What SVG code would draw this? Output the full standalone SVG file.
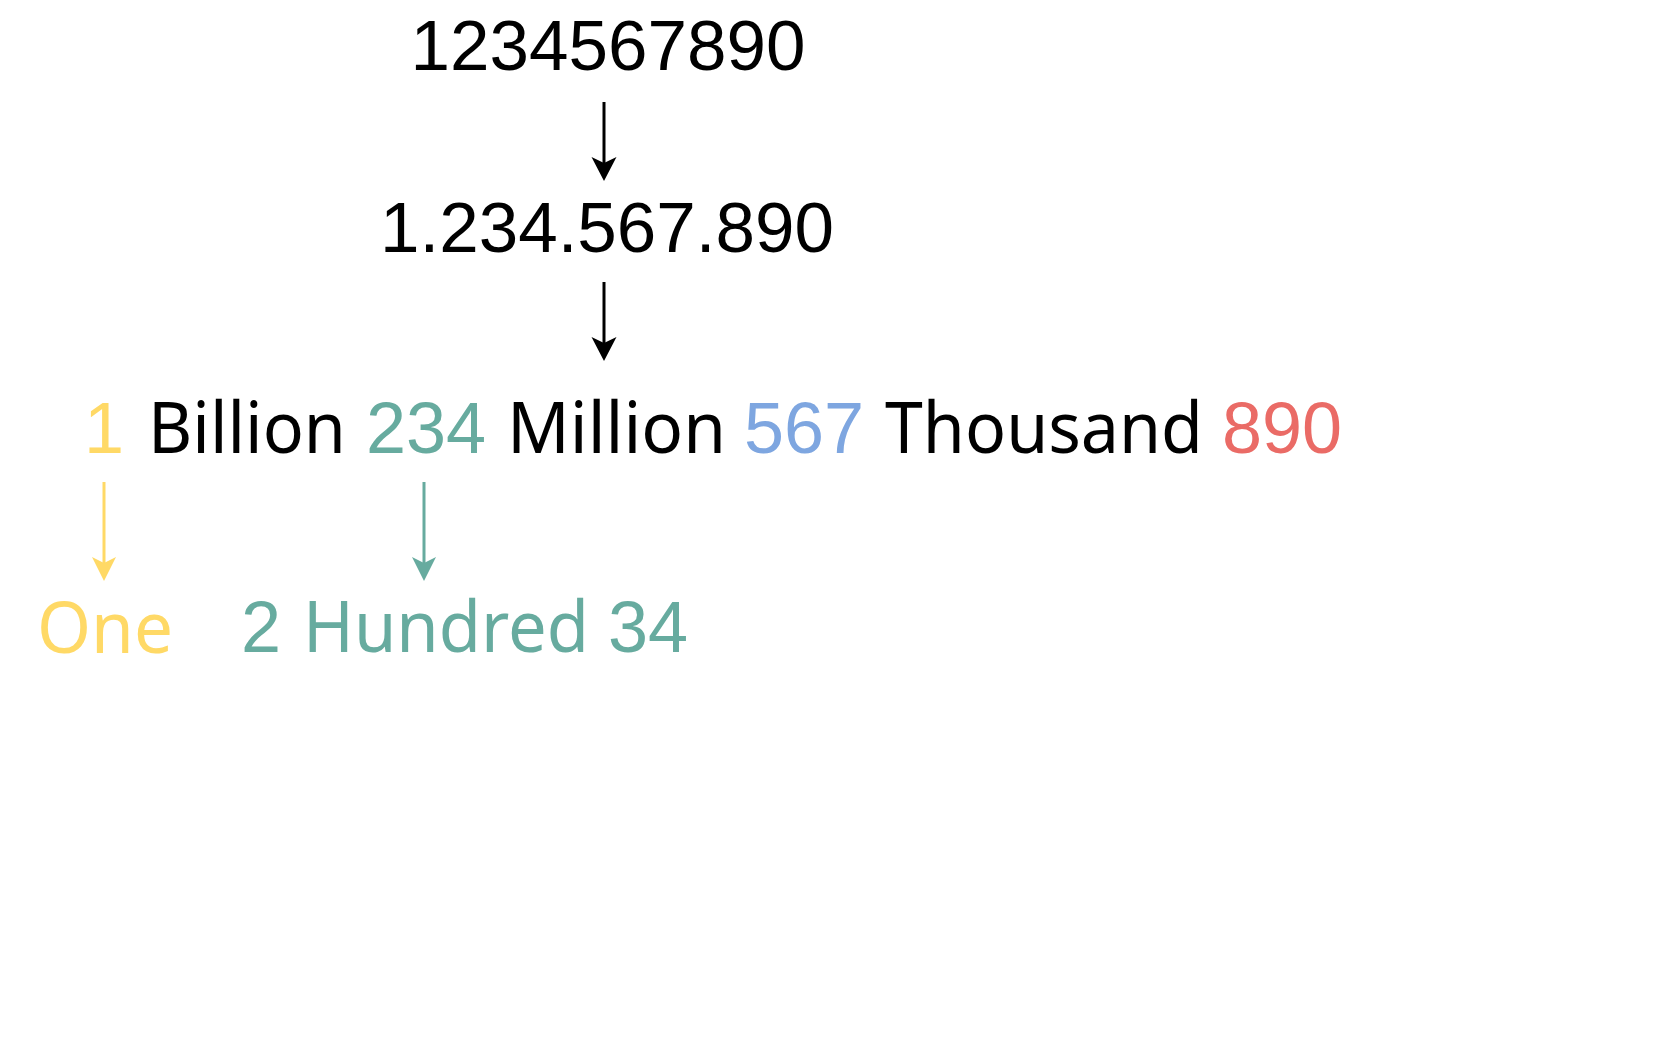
<svg xmlns="http://www.w3.org/2000/svg" width="1670" height="1056" viewBox="0 0 1670 1056">
<style>
.num{font-family:"Liberation Sans",Arial,sans-serif;font-size:72px}
.big{font-family:"Liberation Sans",Arial,sans-serif;font-size:71px}
.hand{font-family:"Noto Sans",sans-serif;font-size:72px}
.blk{fill:#000}
.yel{fill:#FFD966}
.teal{fill:#67AB9F}
.blue{fill:#7EA6E0}
.red{fill:#EA6B66}
.conn{fill:none}
</style>
<defs>
<marker id="ahBlack" viewBox="0 -13 24 26" refX="6" refY="0" markerWidth="24" markerHeight="26" markerUnits="userSpaceOnUse" orient="auto">
<path d="M0,-12.5 L24,0 L0,12.5 L6,0 Z" fill="#000"/>
</marker>
<marker id="ahYel" viewBox="0 -12 24 24" refX="6" refY="0" markerWidth="24" markerHeight="24" markerUnits="userSpaceOnUse" orient="auto">
<path d="M0,-12 L24,0 L0,12 L6,0 Z" fill="#FFD966"/>
</marker>
<marker id="ahTeal" viewBox="0 -12 24 24" refX="6" refY="0" markerWidth="24" markerHeight="24" markerUnits="userSpaceOnUse" orient="auto">
<path d="M0,-12 L24,0 L0,12 L6,0 Z" fill="#67AB9F"/>
</marker>
</defs>
<rect width="1670" height="1056" fill="#fff"/>
<g id="connectors">
<line class="conn" x1="604" y1="102" x2="604" y2="163" stroke="#000" stroke-width="3" marker-end="url(#ahBlack)"/>
<line class="conn" x1="604" y1="282" x2="604" y2="343" stroke="#000" stroke-width="3" marker-end="url(#ahBlack)"/>
<line class="conn" x1="104" y1="482" x2="104" y2="563" stroke="#FFD966" stroke-width="3" marker-end="url(#ahYel)"/>
<line class="conn" x1="424" y1="482" x2="424" y2="563" stroke="#67AB9F" stroke-width="3" marker-end="url(#ahTeal)"/>
</g>
<g id="node-raw">
<text class="big blk" x="608" y="70" text-anchor="middle">1234567890</text>
</g>
<g id="node-dotted">
<text class="big blk" x="607" y="252" text-anchor="middle">1.234.567.890</text>
</g>
<g id="node-words">
<text class="num yel" x="84" y="453">1</text>
<text class="hand blk" x="148" y="453" textLength="198" lengthAdjust="spacingAndGlyphs">Billion</text>
<text class="num teal" x="366" y="453">234</text>
<text class="hand blk" x="507" y="453" textLength="219" lengthAdjust="spacingAndGlyphs">Million</text>
<text class="num blue" x="744" y="453">567</text>
<text class="hand blk" x="885" y="453" textLength="318" lengthAdjust="spacingAndGlyphs">Thousand</text>
<text class="num red" x="1222" y="453">890</text>
</g>
<g id="node-one">
<text class="hand yel" x="37" y="653" textLength="136" lengthAdjust="spacingAndGlyphs">One</text>
</g>
<g id="node-hundred">
<text class="num teal" x="241" y="652">2</text>
<text class="hand teal" x="303" y="652" textLength="286" lengthAdjust="spacingAndGlyphs">Hundred</text>
<text class="num teal" x="608" y="652">34</text>
</g>
</svg>
